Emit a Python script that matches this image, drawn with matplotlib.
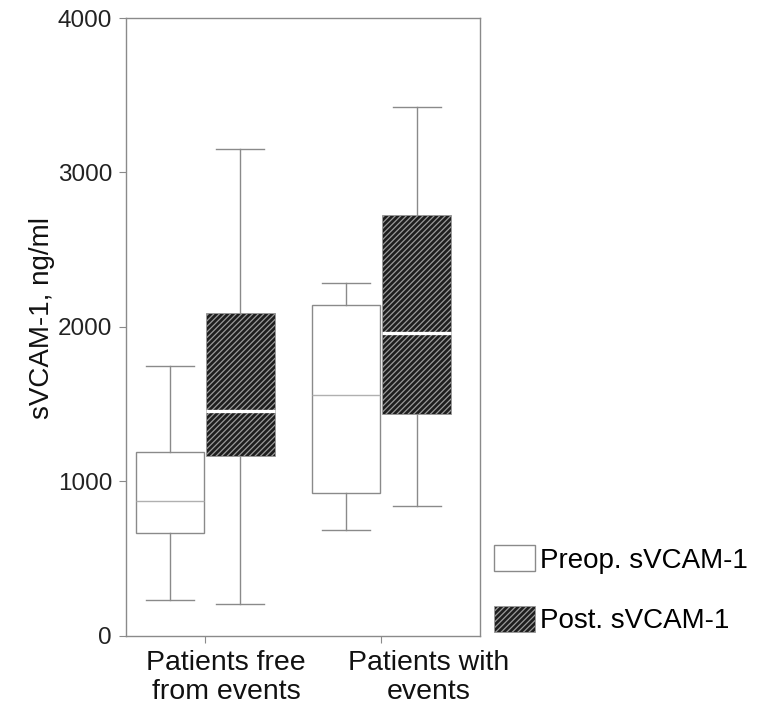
import matplotlib
matplotlib.use("Agg")
import matplotlib.pyplot as plt
from matplotlib.patches import Patch
from matplotlib.transforms import ScaledTranslation

plt.rcParams['font.family'] = ['Liberation Sans', 'DejaVu Sans']
plt.rcParams['hatch.linewidth'] = 0.9

groups = ["Patients free\nfrom events", "Patients with\nevents"]
series = ["Preop. sVCAM-1", "Post. sVCAM-1"]
# [whislo, q1, med, q3, whishi]
preop = [[233, 667, 874, 1191, 1750], [686, 925, 1562, 2144, 2285]]
post = [[207, 1165, 1456, 2093, 3152], [843, 1437, 1963, 2725, 3424]]
yticks = [0, 1000, 2000, 3000, 4000]

fig = plt.figure(figsize=(7.57, 7.06), dpi=100)
ax = fig.add_axes([0.1664, 0.0992, 0.4676, 0.8753])

def stats(vals):
    lo, q1, med, q3, hi = vals
    return dict(whislo=lo, q1=q1, med=med, q3=q3, whishi=hi, fliers=[])

centers = [1.0, 2.0]
off = 0.2
w = 0.39
gray = '#8a8a8a'
for i, c in enumerate(centers):
    ax.bxp([stats(preop[i])], positions=[c - off], widths=w, patch_artist=True,
           showfliers=False, capwidths=w * 0.7,
           boxprops=dict(facecolor='white', edgecolor=gray, linewidth=1.0),
           medianprops=dict(color='#b0b0b0', linewidth=1.0),
           whiskerprops=dict(color=gray, linewidth=1.0),
           capprops=dict(color=gray, linewidth=1.0))
    ax.bxp([stats(post[i])], positions=[c + off], widths=w, patch_artist=True,
           showfliers=False, capwidths=w * 0.7,
           boxprops=dict(facecolor='#1e1e1e', edgecolor='#9a9a9a', linewidth=0.6, hatch='//////'),
           medianprops=dict(color='white', linewidth=2.4),
           whiskerprops=dict(color=gray, linewidth=1.0),
           capprops=dict(color=gray, linewidth=1.0))

ax.set_xlim(0.55, 2.56)
ax.set_ylim(0, 4000)
ax.set_yticks(yticks)
ax.set_yticklabels([str(t) for t in yticks], fontsize=17.5, color='#222222')
ax.set_xticks(centers)
ax.set_xticklabels(groups, fontsize=20.5, color='#111111', linespacing=1.15)
ax.tick_params(axis='both', direction='out', length=5, color=gray, pad=5)
for lbl, dx in zip(ax.get_xticklabels(), [0.21, 0.47]):
    lbl.set_transform(lbl.get_transform() + ScaledTranslation(dx, 0, fig.dpi_scale_trans))
for s in ax.spines.values():
    s.set_color(gray)
    s.set_linewidth(1.0)
ax.set_ylabel("sVCAM-1, ng/ml", fontsize=20, color='#111111', labelpad=2)
ax.yaxis.label.set_y(0.515)

handles = [Patch(facecolor='white', edgecolor=gray, linewidth=1.0, label=series[0]),
           Patch(facecolor='#1e1e1e', edgecolor='#9a9a9a', linewidth=0.6, hatch='//////', label=series[1])]
fig.legend(handles=handles, loc='upper left', bbox_to_anchor=(0.6526, 0.228), frameon=False,
           fontsize=20, handlelength=1.47, handleheight=1.08, handletextpad=0.18, labelspacing=1.15,
           borderpad=0, borderaxespad=0)

fig.savefig("out.png", dpi=100)
